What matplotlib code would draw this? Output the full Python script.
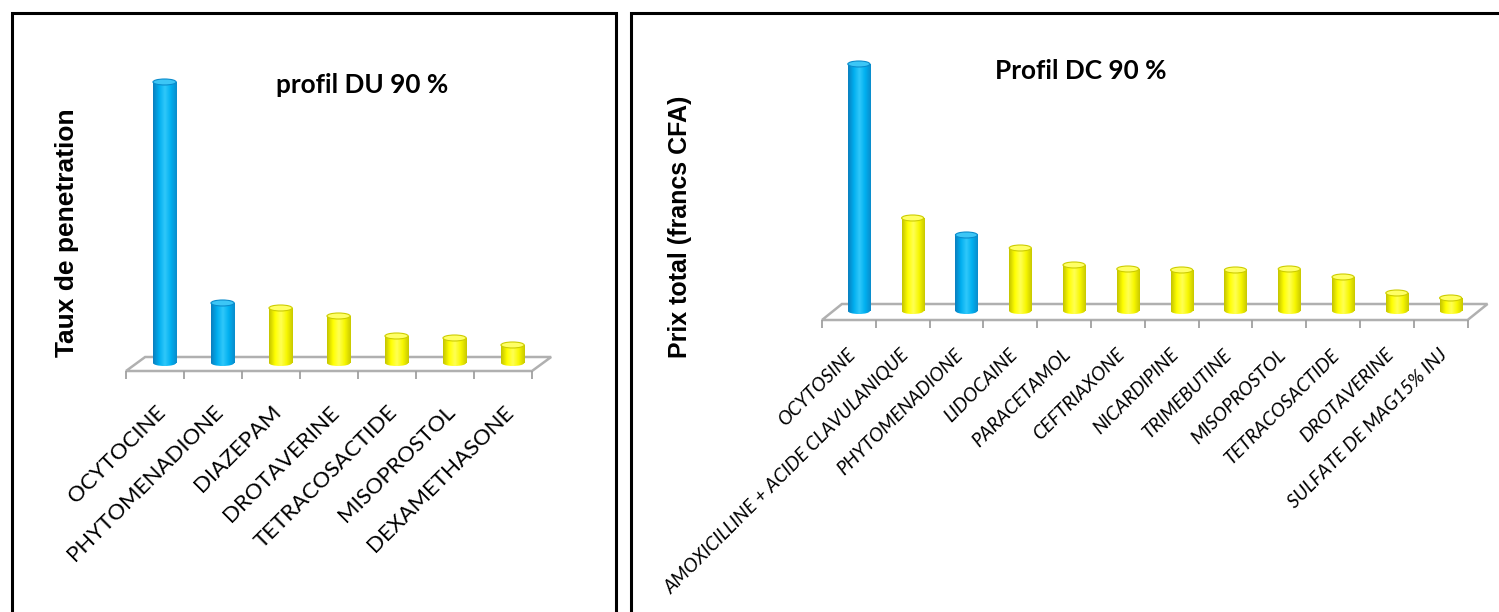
import matplotlib
matplotlib.use("Agg")
import matplotlib.pyplot as plt
import numpy as np
from matplotlib.patches import Ellipse, Polygon, Rectangle
from matplotlib.colors import LinearSegmentedColormap

W, H = 1499, 612

# left chart - profil DU 90 %
du_labels = ["OCYTOCINE", "PHYTOMENADIONE", "DIAZEPAM", "DROTAVERINE",
             "TETRACOSACTIDE", "MISOPROSTOL", "DEXAMETHASONE"]
du_values = [281, 60, 55, 47, 27, 25, 18]
du_kinds = ["blue", "blue", "yellow", "yellow", "yellow", "yellow", "yellow"]

# right chart - Profil DC 90 %
dc_labels = ["OCYTOSINE", "AMOXICILLINE + ACIDE CLAVULANIQUE", "PHYTOMENADIONE",
             "LIDOCAINE", "PARACETAMOL", "CEFTRIAXONE", "NICARDIPINE",
             "TRIMEBUTINE", "MISOPROSTOL", "TETRACOSACTIDE", "DROTAVERINE",
             "SULFATE DE MAG15% INJ"]
dc_values = [247, 93, 76, 63, 46, 42, 41, 41, 42, 34, 18, 13]
dc_kinds = ["blue", "yellow", "blue", "yellow", "yellow", "yellow", "yellow",
            "yellow", "yellow", "yellow", "yellow", "yellow"]

shades = {
    "blue": ["#0a7fbf", "#00aeef", "#30c8fa", "#00b0f0", "#0a8ccc"],
    "yellow": ["#c4c400", "#ffff00", "#ffff55", "#f7f700", "#c9c900"],
}
caps = {"blue": ("#3cc6f6", "#0a8ccc"), "yellow": ("#ffff66", "#cdcd00")}


def place(fig, left, right, top, bottom, front_x, cat_px, base_y):
    # axes where one category = cat_px pixels and one value unit = one pixel
    ax = fig.add_axes([left / W, 1 - bottom / H, (right - left) / W, (bottom - top) / H])
    xlim = (-0.5 + (left - front_x) / cat_px, -0.5 + (right - front_x) / cat_px)
    ylim = (base_y - bottom, base_y - top)
    return ax, xlim, ylim


def draw_chart(ax, xlim, ylim, values, kinds, labels, shift, depth, front, back,
               width, cap_h, lab_dx, lab_y, lab_size, lab_style):
    n = len(values)
    floor = Polygon([(-0.5, front), (n - 0.5, front), (n - 0.5 + depth, back), (-0.5 + depth, back)],
                    closed=True, facecolor="white", edgecolor="#b0b0b0", lw=1.8, zorder=2)
    ax.add_patch(floor)
    ax.vlines(np.arange(n + 1) - 0.5, front - 8, front, color="#a0a0a0", lw=1.3, zorder=2)

    x = np.arange(n) + shift
    rects = ax.bar(x, values, width=width, color="none", linewidth=0, zorder=3)
    grad = np.linspace(0, 1, 64).reshape(1, -1)
    for rect, v, k in zip(rects, values, kinds):
        cmap = LinearSegmentedColormap.from_list(k, shades[k])
        x0 = rect.get_x()
        x1 = x0 + rect.get_width()
        bottom = Ellipse((x0 + width / 2, 0), width, cap_h, facecolor="none", edgecolor="none")
        ax.add_patch(bottom)
        for clip in (rect, bottom):
            im = ax.imshow(grad, cmap=cmap, extent=(x0, x1, -cap_h, v), aspect="auto",
                           interpolation="bilinear", zorder=3)
            im.set_clip_path(clip)
        top = Ellipse((x0 + width / 2, v), width, cap_h, facecolor=caps[k][0],
                      edgecolor=caps[k][1], lw=0.8, zorder=4)
        ax.add_patch(top)

    for i, lab in enumerate(labels):
        ax.text(i + lab_dx, lab_y, lab, rotation=45, ha="right", va="top",
                rotation_mode="anchor", fontsize=lab_size, family="Lato",
                style=lab_style, color="black")

    ax.set_xlim(*xlim)
    ax.set_ylim(*ylim)
    ax.axis("off")


fig = plt.figure(figsize=(W / 100, H / 100), dpi=100)

# panel frames
fig.add_artist(Rectangle((12 / W, -0.1), (616 - 12) / W, 1.1 - 13 / H, transform=fig.transFigure,
                         fill=False, edgecolor="black", lw=2.2))
fig.add_artist(Rectangle((631 / W, -0.1), 1.0, 1.1 - 13 / H, transform=fig.transFigure,
                         fill=False, edgecolor="black", lw=2.2))

ax1, xl1, yl1 = place(fig, 20, 610, 20, 600, 126, 58, 363)
draw_chart(ax1, xl1, yl1, du_values, du_kinds, du_labels, shift=0.165, depth=0.33,
           front=-8, back=6, width=0.40, cap_h=6, lab_dx=0.0, lab_y=-39,
           lab_size=16, lab_style="normal")

ax2, xl2, yl2 = place(fig, 640, 1499, 20, 600, 822, 53.8, 311)
draw_chart(ax2, xl2, yl2, dc_values, dc_kinds, dc_labels, shift=0.185, depth=0.37,
           front=-9, back=7, width=0.41, cap_h=6, lab_dx=-0.04, lab_y=-35,
           lab_size=13.8, lab_style="italic")

fig.text(362 / W, 1 - 93 / H, "profil DU 90 %", ha="center", va="baseline",
         fontsize=18.8, fontweight="bold", family="Lato")
fig.text(1081 / W, 1 - 79 / H, "Profil DC 90 %", ha="center", va="baseline",
         fontsize=18.8, fontweight="bold", family="Lato")

fig.text(67 / W, 1 - 233 / H, "Taux de penetration", rotation=90, ha="center", va="center",
         fontsize=19, fontweight="bold", family="Liberation Sans")
fig.text(680 / W, 1 - 227 / H, "Prix total (francs CFA)", rotation=90, ha="center", va="center",
         fontsize=18, fontweight="bold", family="Liberation Sans")

fig.savefig("out.png", dpi=100)
